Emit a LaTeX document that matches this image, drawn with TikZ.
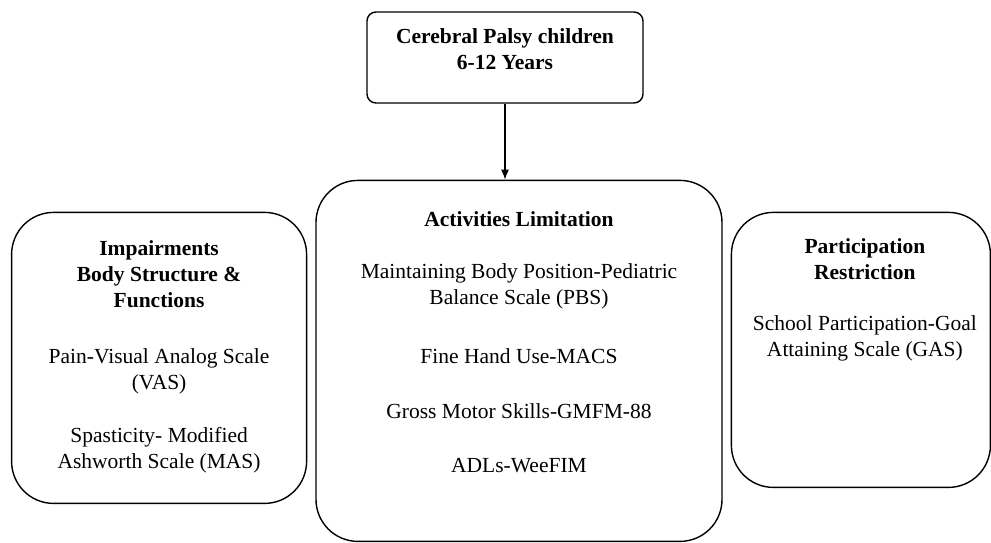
\documentclass[tikz,border=0pt]{standalone}
\usepackage{fontspec}
\setmainfont{Liberation Serif}
\usepackage{tikz}
\usetikzlibrary{positioning,arrows.meta,calc}

\begin{document}
\begin{tikzpicture}[
    font=\fontsize{21.5}{26}\selectfont,
    small_box/.style={rectangle, draw, line width=1.4pt, rounded corners=9pt},
    big_box/.style={rectangle, draw, line width=1.4pt, rounded corners=42pt},
    head_text/.style={font=\fontsize{21.5}{26}\selectfont\bfseries, align=center, inner sep=0pt},
    item_text/.style={align=center, inner sep=0pt}
]
\useasboundingbox (0,0) rectangle (991pt,-543pt);

% Top Part
\node[small_box, minimum width=276pt, minimum height=91pt] (cp) at (505pt,-57.5pt) {};
\node[head_text] (cp_text) at ([yshift=-38pt]cp.north) {Cerebral Palsy children\\6-12 Years};

% Activities Part
\node[big_box, minimum width=406pt, minimum height=361pt, below=76pt of cp, xshift=14pt] (act) {};
\node[head_text] (act_head) at ([yshift=-39pt]act.north) {Activities Limitation};
\node[item_text] (act_pbs) at ([yshift=-107pt]act.north) {Maintaining Body Position-Pediatric\\Balance Scale (PBS)};
\node[item_text] (act_macs) at ([yshift=-176pt]act.north) {Fine Hand Use-MACS};
\node[item_text] (act_gmfm) at ([yshift=-231pt]act.north) {Gross Motor Skills-GMFM-88};
\node[item_text] (act_adl) at ([yshift=-286pt]act.north) {ADLs-WeeFIM};
\draw[-{Latex[length=10pt,width=8pt]}, line width=1.4pt] (cp.south) -- (cp.south |- act.north);

% Impairments Part
\node[big_box, minimum width=295pt, minimum height=291pt, anchor=north east] (imp) at ([xshift=-8pt,yshift=-32pt]act.north west) {};
\node[head_text] (imp_head) at ([yshift=-62pt]imp.north) {Impairments\\Body Structure \&\\Functions};
\node[item_text] (imp_vas) at ([yshift=-160pt]imp.north) {Pain-Visual Analog Scale\\(VAS)};
\node[item_text] (imp_mas) at ([yshift=-239pt]imp.north) {Spasticity- Modified\\Ashworth Scale (MAS)};

% Participation Part
\node[big_box, minimum width=259pt, minimum height=275pt, anchor=north west] (par) at ([xshift=8pt,yshift=-32pt]act.north east) {};
\node[head_text] (par_head) at ([xshift=4pt,yshift=-47pt]par.north) {Participation\\Restriction};
\node[item_text] (par_gas) at ([xshift=4pt,yshift=-127pt]par.north) {School Participation-Goal\\Attaining Scale (GAS)};

\end{tikzpicture}
\end{document}
